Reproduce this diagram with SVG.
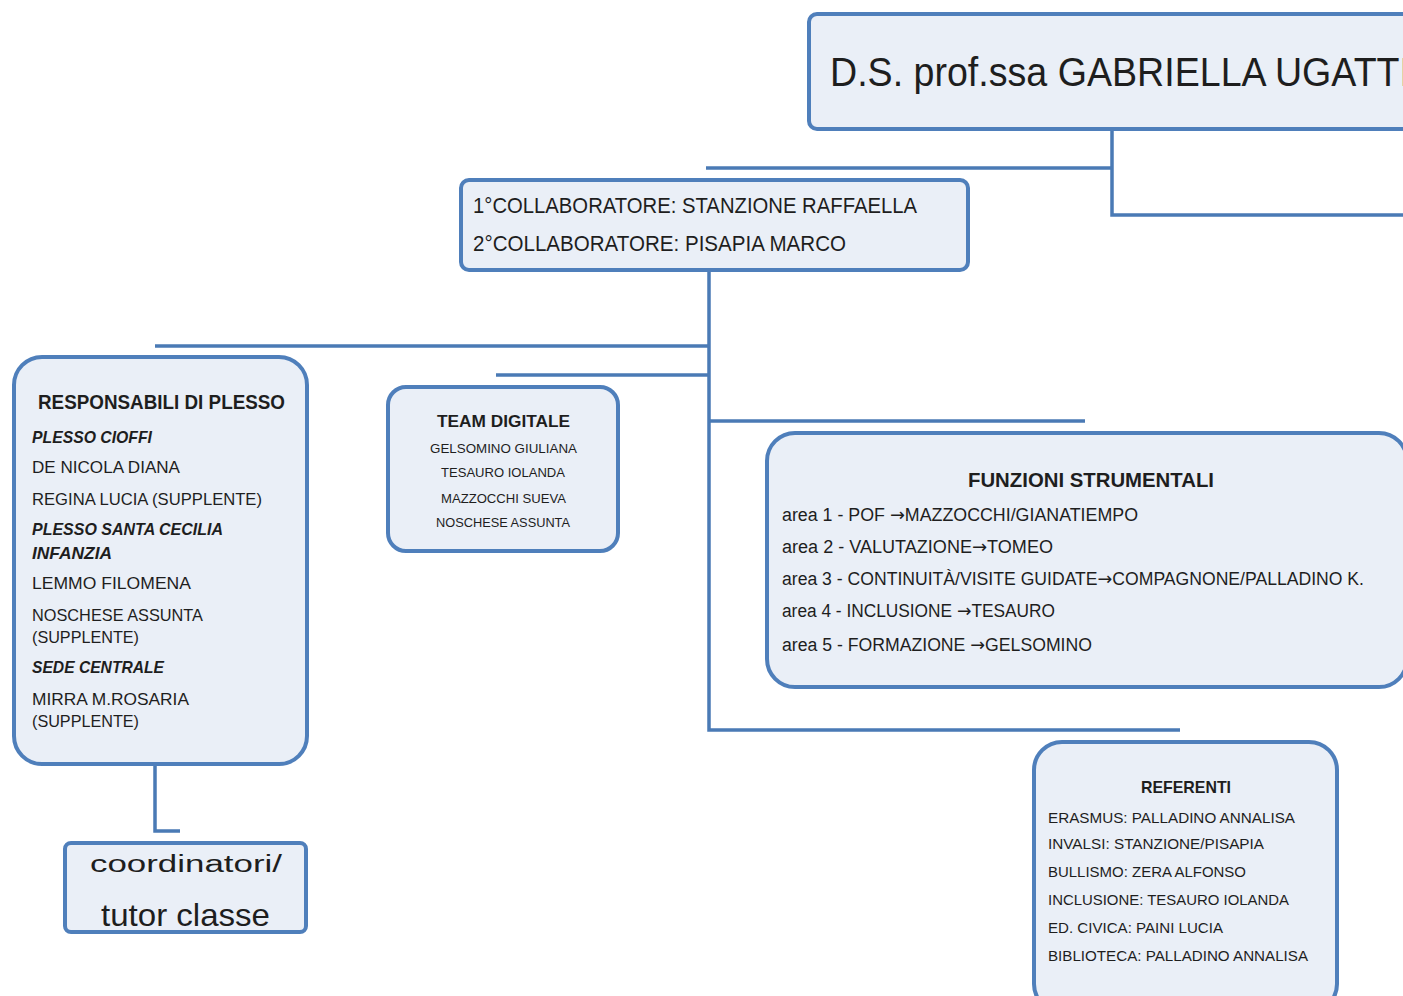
<svg xmlns="http://www.w3.org/2000/svg" width="1403" height="996" viewBox="0 0 1403 996">
<style>
.box{fill:#eaeff7;stroke:#4f7fbb;stroke-width:4}
.con{fill:none;stroke:#4a7ab5;stroke-width:3.5;stroke-linecap:butt}
text{font-family:"Liberation Sans",Arial,sans-serif;fill:#1e1e1e}
.b{font-weight:bold}
.bi{font-weight:bold;font-style:italic}
.ar{font-family:"DejaVu Sans",sans-serif}
</style>
<rect width="1403" height="996" fill="#ffffff"/>
<g id="connectors">
<path class="con" d="M1112 129 V215 H1410"/>
<path class="con" d="M706 168 H1112"/>
<path class="con" d="M709 270 V730 H1180"/>
<path class="con" d="M155 346 H709"/>
<path class="con" d="M496 375 H709"/>
<path class="con" d="M709 421 H1085"/>
<path class="con" d="M155 765 V831 H180"/>
</g>
<g id="ds">
<rect class="box" x="809" y="14" width="620" height="115" rx="8"/>
<text x="830" y="86" font-size="40" textLength="580" lengthAdjust="spacingAndGlyphs">D.S. prof.ssa GABRIELLA UGATTI</text>
</g>
<g id="collaboratori">
<rect class="box" x="461" y="180" width="507" height="90" rx="8"/>
<text x="473" y="213" font-size="22" textLength="444" lengthAdjust="spacingAndGlyphs">1°COLLABORATORE: STANZIONE RAFFAELLA</text>
<text x="473" y="251" font-size="22" textLength="373" lengthAdjust="spacingAndGlyphs">2°COLLABORATORE: PISAPIA MARCO</text>
</g>
<g id="responsabili">
<rect class="box" x="14" y="357" width="293" height="407" rx="28"/>
<text class="b" x="38" y="409" font-size="20" textLength="247" lengthAdjust="spacingAndGlyphs">RESPONSABILI DI PLESSO</text>
<text class="bi" x="32" y="443" font-size="17" textLength="120" lengthAdjust="spacingAndGlyphs">PLESSO CIOFFI</text>
<text x="32" y="473" font-size="17" textLength="148" lengthAdjust="spacingAndGlyphs">DE NICOLA DIANA</text>
<text x="32" y="505" font-size="17" textLength="230" lengthAdjust="spacingAndGlyphs">REGINA LUCIA (SUPPLENTE)</text>
<text class="bi" x="32" y="535" font-size="17" textLength="191" lengthAdjust="spacingAndGlyphs">PLESSO SANTA CECILIA</text>
<text class="bi" x="32" y="559" font-size="17" textLength="80" lengthAdjust="spacingAndGlyphs">INFANZIA</text>
<text x="32" y="589" font-size="17" textLength="159" lengthAdjust="spacingAndGlyphs">LEMMO FILOMENA</text>
<text x="32" y="621" font-size="17" textLength="171" lengthAdjust="spacingAndGlyphs">NOSCHESE ASSUNTA</text>
<text x="32" y="643" font-size="17" textLength="107" lengthAdjust="spacingAndGlyphs">(SUPPLENTE)</text>
<text class="bi" x="32" y="673" font-size="17" textLength="132" lengthAdjust="spacingAndGlyphs">SEDE CENTRALE</text>
<text x="32" y="705" font-size="17" textLength="157" lengthAdjust="spacingAndGlyphs">MIRRA M.ROSARIA</text>
<text x="32" y="727" font-size="17" textLength="107" lengthAdjust="spacingAndGlyphs">(SUPPLENTE)</text>
</g>
<g id="coordinatori">
<rect class="box" x="65" y="843" width="241" height="89" rx="6"/>
<text transform="translate(90 872) scale(1 0.72)" x="0" y="0" font-size="32" textLength="192" lengthAdjust="spacingAndGlyphs">coordinatori/</text>
<text x="101" y="926" font-size="32" textLength="169" lengthAdjust="spacingAndGlyphs">tutor classe</text>
</g>
<g id="team">
<rect class="box" x="388" y="387" width="230" height="164" rx="18"/>
<text class="b" x="437" y="427" font-size="17" textLength="133" lengthAdjust="spacingAndGlyphs">TEAM DIGITALE</text>
<text x="430" y="453" font-size="13" textLength="147" lengthAdjust="spacingAndGlyphs">GELSOMINO GIULIANA</text>
<text x="441" y="477" font-size="13" textLength="124" lengthAdjust="spacingAndGlyphs">TESAURO IOLANDA</text>
<text x="441" y="503" font-size="13" textLength="125" lengthAdjust="spacingAndGlyphs">MAZZOCCHI SUEVA</text>
<text x="436" y="527" font-size="13" textLength="134" lengthAdjust="spacingAndGlyphs">NOSCHESE ASSUNTA</text>
</g>
<g id="funzioni">
<rect class="box" x="767" y="433" width="640" height="254" rx="28"/>
<text class="b" x="968" y="487" font-size="20" textLength="246" lengthAdjust="spacingAndGlyphs">FUNZIONI STRUMENTALI</text>
<text x="782" y="521" font-size="18" textLength="356" lengthAdjust="spacingAndGlyphs">area 1 - POF <tspan class="ar">→</tspan>MAZZOCCHI/GIANATIEMPO</text>
<text x="782" y="553" font-size="18" textLength="271" lengthAdjust="spacingAndGlyphs">area 2 - VALUTAZIONE<tspan class="ar">→</tspan>TOMEO</text>
<text x="782" y="585" font-size="18" textLength="582" lengthAdjust="spacingAndGlyphs">area 3 - CONTINUITÀ/VISITE GUIDATE<tspan class="ar">→</tspan>COMPAGNONE/PALLADINO K.</text>
<text x="782" y="617" font-size="18" textLength="273" lengthAdjust="spacingAndGlyphs">area 4 - INCLUSIONE <tspan class="ar">→</tspan>TESAURO</text>
<text x="782" y="651" font-size="18" textLength="310" lengthAdjust="spacingAndGlyphs">area 5 - FORMAZIONE <tspan class="ar">→</tspan>GELSOMINO</text>
</g>
<g id="referenti">
<rect class="box" x="1034" y="742" width="303" height="270" rx="28"/>
<text class="b" x="1141" y="793" font-size="17" textLength="90" lengthAdjust="spacingAndGlyphs">REFERENTI</text>
<text x="1048" y="823" font-size="15" textLength="247" lengthAdjust="spacingAndGlyphs">ERASMUS: PALLADINO ANNALISA</text>
<text x="1048" y="849" font-size="15" textLength="216" lengthAdjust="spacingAndGlyphs">INVALSI: STANZIONE/PISAPIA</text>
<text x="1048" y="877" font-size="15" textLength="198" lengthAdjust="spacingAndGlyphs">BULLISMO: ZERA ALFONSO</text>
<text x="1048" y="905" font-size="15" textLength="241" lengthAdjust="spacingAndGlyphs">INCLUSIONE: TESAURO IOLANDA</text>
<text x="1048" y="933" font-size="15" textLength="175" lengthAdjust="spacingAndGlyphs">ED. CIVICA: PAINI LUCIA</text>
<text x="1048" y="961" font-size="15" textLength="260" lengthAdjust="spacingAndGlyphs">BIBLIOTECA: PALLADINO ANNALISA</text>
</g>
</svg>
